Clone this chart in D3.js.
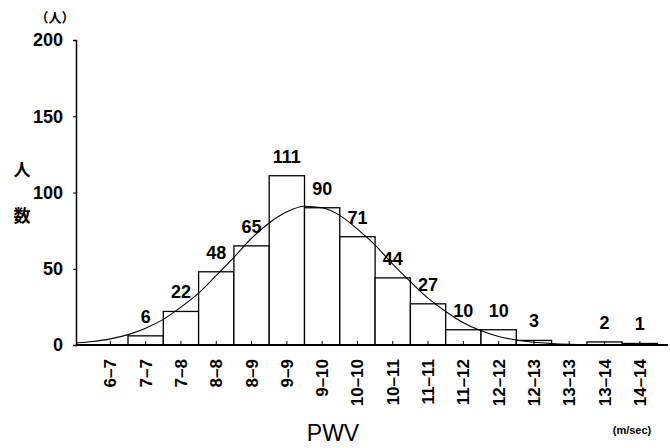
<!DOCTYPE html>
<html>
<head>
<meta charset="utf-8">
<script src="https://cdn.jsdelivr.net/npm/d3@7"></script>
<style>
  body { margin: 0; background: #fff; }
  text { font-family: "Liberation Sans", Arial, sans-serif; fill: #000; }
</style>
</head>
<body>
<div id="chart"></div>
<script>
// PWV 区間と人数
const categories = ['6–7', '7–7', '7–8', '8–8', '8–9', '9–9', '9–10', '10–10',
  '10–11', '11–11', '11–12', '12–12', '12–13', '13–13', '13–14', '14–14'];
const counts = [0, 6, 22, 48, 65, 111, 90, 71, 44, 27, 10, 10, 3, 0, 2, 1];
const yTicks = [0, 50, 100, 150, 200];

// 近似曲線（区間番号, 人数） 図から読み取り
const curvePos = [-0.97, -0.5, 0, 0.5, 1, 1.5, 2, 2.5, 3, 3.5, 4, 4.5, 5, 5.5, 6, 6.5,
  7, 7.5, 8, 8.5, 9, 9.5, 10, 10.5, 11, 11.5, 12, 12.5, 13, 13.5];
const curveVal = [1.3, 2.3, 4, 6.8, 11, 16.8, 24.8, 34, 45.6, 57.5, 70, 80, 87.3, 91, 90, 85,
  76, 65.5, 53, 41.5, 30.7, 22, 14.6, 9.3, 5.6, 3.3, 1.8, 1, 0.5, 0.2];

const W = 670, H = 448;
const margin = { left: 76, top: 40, bottom: 345 };

const svg = d3.select('#chart').append('svg')
  .attr('width', W)
  .attr('height', H);

const yScale = d3.scaleLinear().domain([0, 200]).range([margin.bottom, margin.top]);
const xScale = d3.scaleBand().domain(categories).range([92.7, 657.5]).padding(0);
const bw = xScale.bandwidth();
const xPos = d3.scaleLinear()
  .domain([0, categories.length - 1])
  .range([xScale(categories[0]) + bw / 2, xScale(categories[categories.length - 1]) + bw / 2]);

// Y 軸
const yAxis = svg.append('g')
  .attr('transform', `translate(${margin.left},0)`)
  .call(d3.axisLeft(yScale).tickValues(yTicks).tickSize(3).tickPadding(10));
yAxis.select('.domain').attr('stroke', '#000').attr('stroke-width', 1.5);
yAxis.selectAll('text')
  .style('font-size', '18px')
  .style('font-weight', 'bold')
  .style('font-family', '"Liberation Sans", Arial, sans-serif');

// 棒
const barData = categories.map((c, i) => ({ c, v: counts[i] })).filter(d => d.v > 0);
svg.append('g')
  .selectAll('rect')
  .data(barData)
  .join('rect')
  .attr('x', d => xScale(d.c))
  .attr('y', d => yScale(d.v))
  .attr('width', bw)
  .attr('height', d => margin.bottom - yScale(d.v))
  .attr('fill', '#fff')
  .attr('stroke', '#000')
  .attr('stroke-width', 1.3);

// 曲線
const line = d3.line()
  .x(d => xPos(d[0]))
  .y(d => yScale(d[1]))
  .curve(d3.curveMonotoneX);
svg.append('path')
  .datum(curvePos.map((p, i) => [p, curveVal[i]]))
  .attr('d', line)
  .attr('fill', 'none')
  .attr('stroke', '#000')
  .attr('stroke-width', 1.1);

// 横軸
svg.append('line')
  .attr('x1', margin.left).attr('x2', 668)
  .attr('y1', margin.bottom).attr('y2', margin.bottom)
  .attr('stroke', '#000')
  .attr('stroke-width', 2.2);

svg.append('g')
  .selectAll('line')
  .data(categories)
  .join('line')
  .attr('x1', d => xScale(d) + bw / 2)
  .attr('x2', d => xScale(d) + bw / 2)
  .attr('y1', margin.bottom)
  .attr('y2', margin.bottom - 4)
  .attr('stroke', '#000')
  .attr('stroke-width', 1);

svg.append('g')
  .selectAll('text')
  .data(categories)
  .join('text')
  .attr('transform', d => `translate(${xScale(d) + bw / 2 + 6},359) rotate(-90)`)
  .attr('text-anchor', 'end')
  .style('font-size', '17px')
  .style('font-weight', 'bold')
  .text(d => d);

// 値ラベル
svg.append('g')
  .selectAll('text')
  .data(barData)
  .join('text')
  .attr('x', d => xScale(d.c) + bw / 2)
  .attr('y', d => yScale(d.v) - 13)
  .attr('text-anchor', 'middle')
  .style('font-size', '18px')
  .style('font-weight', 'bold')
  .text(d => d.v);

// 軸タイトル
svg.append('text')
  .attr('x', 55).attr('y', 22)
  .attr('text-anchor', 'middle')
  .style('font-size', '13px')
  .style('font-weight', 'bold')
  .style('font-family', '"Noto Sans CJK JP", sans-serif')
  .text('（人）');

svg.append('text')
  .attr('x', 22).attr('y', 176)
  .attr('text-anchor', 'middle')
  .style('font-size', '17px')
  .style('font-weight', 'bold')
  .style('font-family', '"Noto Sans CJK JP", sans-serif')
  .text('人');
svg.append('text')
  .attr('x', 22).attr('y', 222)
  .attr('text-anchor', 'middle')
  .style('font-size', '17px')
  .style('font-weight', 'bold')
  .style('font-family', '"Noto Sans CJK JP", sans-serif')
  .text('数');

svg.append('text')
  .attr('x', 333).attr('y', 441)
  .attr('text-anchor', 'middle')
  .style('font-size', '23px')
  .text('PWV');

svg.append('text')
  .attr('x', 632).attr('y', 434)
  .attr('text-anchor', 'middle')
  .style('font-size', '11px')
  .style('font-weight', 'bold')
  .text('(m/sec)');
</script>
</body>
</html>
